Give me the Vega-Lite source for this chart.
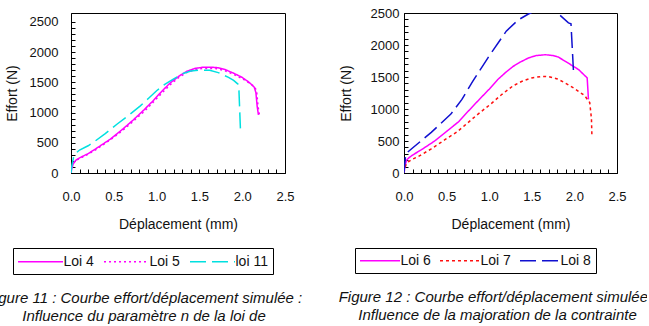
{
  "$schema": "https://vega.github.io/schema/vega-lite/v6.json",
  "padding": {"left": -15, "top": 6, "right": -10, "bottom": 0},
  "background": "white",
  "bounds": "flush",
  "spacing": 119,
  "datasets": {
    "left": [
      {"s": "Loi 4", "x": 0, "y": 0}, {"s": "Loi 4", "x": 0.01, "y": 80}, {"s": "Loi 4", "x": 0.03, "y": 170}, {"s": "Loi 4", "x": 0.06, "y": 215}, {"s": "Loi 4", "x": 0.1, "y": 250}, {"s": "Loi 4", "x": 0.2, "y": 320}, {"s": "Loi 4", "x": 0.3, "y": 410}, {"s": "Loi 4", "x": 0.46, "y": 560}, {"s": "Loi 4", "x": 0.6, "y": 720}, {"s": "Loi 4", "x": 0.73, "y": 880}, {"s": "Loi 4", "x": 0.85, "y": 1040}, {"s": "Loi 4", "x": 0.96, "y": 1195}, {"s": "Loi 4", "x": 1.06, "y": 1350}, {"s": "Loi 4", "x": 1.16, "y": 1490}, {"s": "Loi 4", "x": 1.26, "y": 1600}, {"s": "Loi 4", "x": 1.35, "y": 1680}, {"s": "Loi 4", "x": 1.45, "y": 1730}, {"s": "Loi 4", "x": 1.55, "y": 1750}, {"s": "Loi 4", "x": 1.7, "y": 1745}, {"s": "Loi 4", "x": 1.8, "y": 1710}, {"s": "Loi 4", "x": 1.9, "y": 1650}, {"s": "Loi 4", "x": 2.0, "y": 1580}, {"s": "Loi 4", "x": 2.08, "y": 1500}, {"s": "Loi 4", "x": 2.14, "y": 1420}, {"s": "Loi 4", "x": 2.16, "y": 1330}, {"s": "Loi 4", "x": 2.175, "y": 1100}, {"s": "Loi 4", "x": 2.19, "y": 960},
      {"s": "Loi 5", "x": 0, "y": 0}, {"s": "Loi 5", "x": 0.01, "y": 70}, {"s": "Loi 5", "x": 0.03, "y": 160}, {"s": "Loi 5", "x": 0.06, "y": 205}, {"s": "Loi 5", "x": 0.1, "y": 240}, {"s": "Loi 5", "x": 0.2, "y": 310}, {"s": "Loi 5", "x": 0.3, "y": 395}, {"s": "Loi 5", "x": 0.46, "y": 550}, {"s": "Loi 5", "x": 0.6, "y": 700}, {"s": "Loi 5", "x": 0.73, "y": 860}, {"s": "Loi 5", "x": 0.85, "y": 1010}, {"s": "Loi 5", "x": 0.96, "y": 1170}, {"s": "Loi 5", "x": 1.06, "y": 1320}, {"s": "Loi 5", "x": 1.16, "y": 1460}, {"s": "Loi 5", "x": 1.26, "y": 1580}, {"s": "Loi 5", "x": 1.35, "y": 1660}, {"s": "Loi 5", "x": 1.45, "y": 1710}, {"s": "Loi 5", "x": 1.55, "y": 1730}, {"s": "Loi 5", "x": 1.7, "y": 1725}, {"s": "Loi 5", "x": 1.8, "y": 1690}, {"s": "Loi 5", "x": 1.9, "y": 1630}, {"s": "Loi 5", "x": 2.0, "y": 1560}, {"s": "Loi 5", "x": 2.08, "y": 1490}, {"s": "Loi 5", "x": 2.15, "y": 1420}, {"s": "Loi 5", "x": 2.17, "y": 1330}, {"s": "Loi 5", "x": 2.185, "y": 1100}, {"s": "Loi 5", "x": 2.2, "y": 970},
      {"s": "loi 11", "x": 0, "y": 0}, {"s": "loi 11", "x": 0.01, "y": 120}, {"s": "loi 11", "x": 0.03, "y": 260}, {"s": "loi 11", "x": 0.06, "y": 330}, {"s": "loi 11", "x": 0.1, "y": 380}, {"s": "loi 11", "x": 0.2, "y": 450}, {"s": "loi 11", "x": 0.26, "y": 505}, {"s": "loi 11", "x": 0.4, "y": 650}, {"s": "loi 11", "x": 0.54, "y": 810}, {"s": "loi 11", "x": 0.68, "y": 960}, {"s": "loi 11", "x": 0.81, "y": 1110}, {"s": "loi 11", "x": 0.91, "y": 1240}, {"s": "loi 11", "x": 1.0, "y": 1360}, {"s": "loi 11", "x": 1.1, "y": 1470}, {"s": "loi 11", "x": 1.2, "y": 1555}, {"s": "loi 11", "x": 1.3, "y": 1640}, {"s": "loi 11", "x": 1.4, "y": 1685}, {"s": "loi 11", "x": 1.5, "y": 1700}, {"s": "loi 11", "x": 1.62, "y": 1700}, {"s": "loi 11", "x": 1.72, "y": 1660}, {"s": "loi 11", "x": 1.84, "y": 1580}, {"s": "loi 11", "x": 1.9, "y": 1530}, {"s": "loi 11", "x": 1.95, "y": 1470}, {"s": "loi 11", "x": 1.96, "y": 1440}, {"s": "loi 11", "x": 1.98, "y": 700}
    ],
    "right": [
      {"s": "Loi 6", "x": 0, "y": 0}, {"s": "Loi 6", "x": 0.01, "y": 100}, {"s": "Loi 6", "x": 0.03, "y": 200}, {"s": "Loi 6", "x": 0.06, "y": 240}, {"s": "Loi 6", "x": 0.1, "y": 280}, {"s": "Loi 6", "x": 0.2, "y": 360}, {"s": "Loi 6", "x": 0.36, "y": 500}, {"s": "Loi 6", "x": 0.5, "y": 650}, {"s": "Loi 6", "x": 0.64, "y": 800}, {"s": "Loi 6", "x": 0.75, "y": 960}, {"s": "Loi 6", "x": 0.87, "y": 1130}, {"s": "Loi 6", "x": 1.0, "y": 1310}, {"s": "Loi 6", "x": 1.1, "y": 1460}, {"s": "Loi 6", "x": 1.2, "y": 1580}, {"s": "Loi 6", "x": 1.28, "y": 1665}, {"s": "Loi 6", "x": 1.36, "y": 1730}, {"s": "Loi 6", "x": 1.46, "y": 1797}, {"s": "Loi 6", "x": 1.55, "y": 1835}, {"s": "Loi 6", "x": 1.66, "y": 1848}, {"s": "Loi 6", "x": 1.75, "y": 1835}, {"s": "Loi 6", "x": 1.81, "y": 1812}, {"s": "Loi 6", "x": 1.9, "y": 1740}, {"s": "Loi 6", "x": 2.05, "y": 1615}, {"s": "Loi 6", "x": 2.15, "y": 1486}, {"s": "Loi 6", "x": 2.165, "y": 1150},
      {"s": "Loi 7", "x": 0, "y": 0}, {"s": "Loi 7", "x": 0.01, "y": 80}, {"s": "Loi 7", "x": 0.03, "y": 150}, {"s": "Loi 7", "x": 0.05, "y": 175}, {"s": "Loi 7", "x": 0.1, "y": 215}, {"s": "Loi 7", "x": 0.17, "y": 260}, {"s": "Loi 7", "x": 0.32, "y": 377}, {"s": "Loi 7", "x": 0.48, "y": 520}, {"s": "Loi 7", "x": 0.62, "y": 640}, {"s": "Loi 7", "x": 0.71, "y": 740}, {"s": "Loi 7", "x": 0.85, "y": 900}, {"s": "Loi 7", "x": 1.02, "y": 1080}, {"s": "Loi 7", "x": 1.15, "y": 1230}, {"s": "Loi 7", "x": 1.28, "y": 1362}, {"s": "Loi 7", "x": 1.38, "y": 1430}, {"s": "Loi 7", "x": 1.5, "y": 1486}, {"s": "Loi 7", "x": 1.62, "y": 1510}, {"s": "Loi 7", "x": 1.7, "y": 1505}, {"s": "Loi 7", "x": 1.8, "y": 1470}, {"s": "Loi 7", "x": 1.89, "y": 1408}, {"s": "Loi 7", "x": 2.0, "y": 1320}, {"s": "Loi 7", "x": 2.12, "y": 1210}, {"s": "Loi 7", "x": 2.18, "y": 1100}, {"s": "Loi 7", "x": 2.2, "y": 850}, {"s": "Loi 7", "x": 2.205, "y": 606},
      {"s": "Loi 8", "x": 0, "y": 0}, {"s": "Loi 8", "x": 0.01, "y": 150}, {"s": "Loi 8", "x": 0.02, "y": 300}, {"s": "Loi 8", "x": 0.1, "y": 390}, {"s": "Loi 8", "x": 0.32, "y": 635}, {"s": "Loi 8", "x": 0.55, "y": 920}, {"s": "Loi 8", "x": 0.68, "y": 1150}, {"s": "Loi 8", "x": 0.81, "y": 1440}, {"s": "Loi 8", "x": 0.985, "y": 1800}, {"s": "Loi 8", "x": 1.2, "y": 2216}, {"s": "Loi 8", "x": 1.34, "y": 2391}, {"s": "Loi 8", "x": 1.46, "y": 2484}, {"s": "Loi 8", "x": 1.55, "y": 2540}, {"s": "Loi 8", "x": 1.65, "y": 2570}, {"s": "Loi 8", "x": 1.75, "y": 2540}, {"s": "Loi 8", "x": 1.81, "y": 2490}, {"s": "Loi 8", "x": 1.93, "y": 2345}, {"s": "Loi 8", "x": 1.96, "y": 2330}, {"s": "Loi 8", "x": 1.99, "y": 1570}
    ]
  },
  "hconcat": [
    {
      "width": 214,
      "height": 160,
      "data": {"name": "left"},
      "title": {"text": ["Figure 11 : Courbe effort/déplacement simulée :", "Influence du paramètre n de la loi de"], "orient": "bottom", "anchor": "middle", "frame": "group", "dx": -34, "offset": 16},
      "mark": {"type": "line", "strokeWidth": 1.5, "clip": true},
      "encoding": {
        "x": {"field": "x", "type": "quantitative", "scale": {"domain": [0, 2.5], "nice": false},
          "axis": {"title": "Déplacement (mm)", "values": [0,0.1,0.2,0.3,0.4,0.5,0.6,0.7,0.8,0.9,1,1.1,1.2,1.3,1.4,1.5,1.6,1.7,1.8,1.9,2,2.1,2.2,2.3,2.4,2.5],
            "labelExpr": "abs(datum.value*2 - round(datum.value*2)) < 0.01 ? format(datum.value, '.1f') : ''", "labelPadding": 21, "titlePadding": 14}},
        "y": {"field": "y", "type": "quantitative", "scale": {"domain": [0, 2645], "nice": false},
          "axis": {"title": "Effort (N)", "values": [0,100,200,300,400,500,600,700,800,900,1000,1100,1200,1300,1400,1500,1600,1700,1800,1900,2000,2100,2200,2300,2400,2500],
            "labelExpr": "datum.value % 500 == 0 ? format(datum.value, 'd') : ''", "labelPadding": 17, "titlePadding": 10}},
        "color": {"field": "s", "type": "nominal", "scale": {"domain": ["Loi 4", "Loi 5", "loi 11"], "range": ["#ff00ff", "#ff00ff", "#00e0e0"]},
          "legend": {"orient": "none", "legendX": -58, "legendY": 235, "direction": "horizontal", "symbolType": "M0,0H6", "symbolSize": 225, "symbolOffset": -8.5, "labelOffset": 37, "columnPadding": 7, "title": null}},
        "strokeDash": {"field": "s", "type": "nominal", "scale": {"domain": ["Loi 4", "Loi 5", "loi 11"], "range": [[1, 0], [2, 3], [16, 6]]},
          "legend": {"orient": "none", "legendX": -58, "legendY": 235, "direction": "horizontal", "symbolType": "M0,0H6", "symbolSize": 225, "symbolOffset": -8.5, "labelOffset": 37, "columnPadding": 7, "title": null}}
      }
    },
    {
      "width": 213,
      "height": 160,
      "data": {"name": "right"},
      "title": {"text": ["Figure 12 : Courbe effort/déplacement simulée :", "Influence de la majoration de la contrainte"], "orient": "bottom", "anchor": "middle", "frame": "group", "dx": -13, "offset": 16},
      "mark": {"type": "line", "strokeWidth": 1.5, "clip": true},
      "encoding": {
        "x": {"field": "x", "type": "quantitative", "scale": {"domain": [0, 2.5], "nice": false},
          "axis": {"title": "Déplacement (mm)", "values": [0,0.1,0.2,0.3,0.4,0.5,0.6,0.7,0.8,0.9,1,1.1,1.2,1.3,1.4,1.5,1.6,1.7,1.8,1.9,2,2.1,2.2,2.3,2.4,2.5],
            "labelExpr": "abs(datum.value*2 - round(datum.value*2)) < 0.01 ? format(datum.value, '.1f') : ''", "labelPadding": 21, "titlePadding": 14}},
        "y": {"field": "y", "type": "quantitative", "scale": {"domain": [0, 2500], "nice": false},
          "axis": {"title": "Effort (N)", "values": [0,100,200,300,400,500,600,700,800,900,1000,1100,1200,1300,1400,1500,1600,1700,1800,1900,2000,2100,2200,2300,2400,2500],
            "labelExpr": "datum.value % 500 == 0 ? format(datum.value, 'd') : ''", "labelPadding": 9, "titlePadding": 17}},
        "color": {"field": "s", "type": "nominal", "scale": {"domain": ["Loi 6", "Loi 7", "Loi 8"], "range": ["#ff00ff", "#ff1010", "#1010d0"]},
          "legend": {"orient": "none", "legendX": -49, "legendY": 235, "direction": "horizontal", "symbolType": "M0,0H6", "symbolSize": 178, "symbolOffset": -7.5, "labelOffset": 33, "columnPadding": 6, "title": null}},
        "strokeDash": {"field": "s", "type": "nominal", "scale": {"domain": ["Loi 6", "Loi 7", "Loi 8"], "range": [[1, 0], [3, 3], [16, 6]]},
          "legend": {"orient": "none", "legendX": -49, "legendY": 235, "direction": "horizontal", "symbolType": "M0,0H6", "symbolSize": 178, "symbolOffset": -7.5, "labelOffset": 33, "columnPadding": 6, "title": null}}
      }
    }
  ],
  "resolve": {"scale": {"x": "independent", "y": "independent", "color": "independent", "strokeDash": "independent"}},
  "config": {
    "font": "Liberation Sans",
    "view": {"stroke": "black", "strokeWidth": 1},
    "axis": {"grid": false, "domainColor": "black", "tickColor": "black", "tickSize": -4, "tickWidth": 1,
      "labelFont": "Liberation Sans", "labelFontSize": 13, "labelColor": "#111", "labelOverlap": false, "labelFlush": false,
      "titleFont": "Liberation Sans", "titleFontSize": 14, "titleFontWeight": "normal", "titleColor": "#111"},
    "legend": {"symbolStrokeWidth": 1.5, "labelFont": "Liberation Sans", "labelFontSize": 14, "labelColor": "#111",
      "strokeColor": "black", "padding": 5},
    "title": {"font": "Liberation Sans", "fontSize": 15, "fontStyle": "italic", "fontWeight": "normal", "color": "#111", "lineHeight": 18}
  }
}
